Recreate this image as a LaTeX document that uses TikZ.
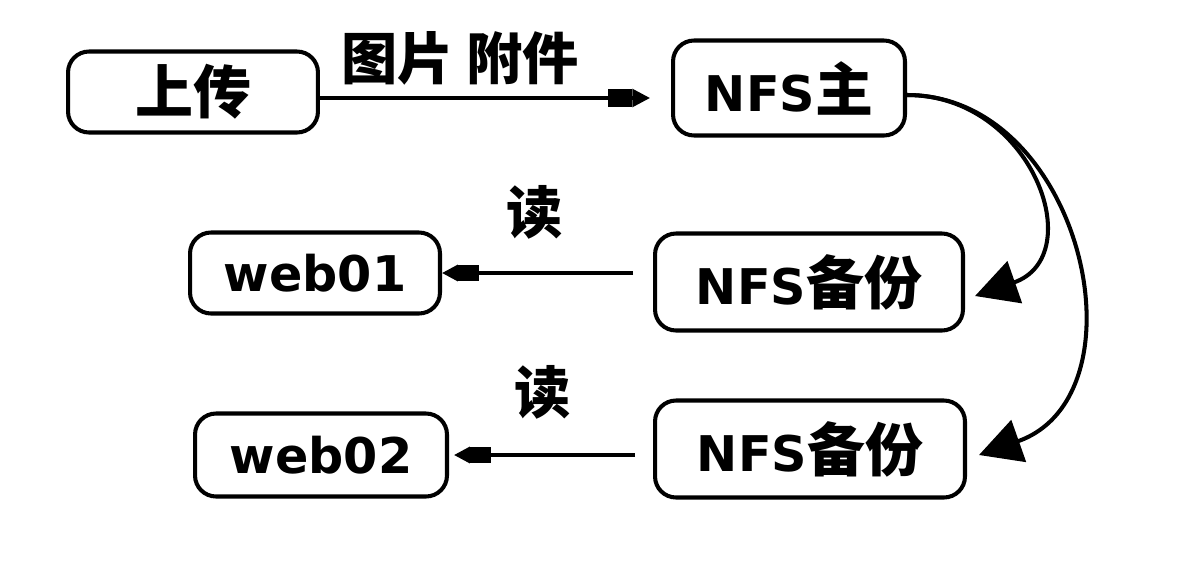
\documentclass[tikz,border=0pt]{standalone}
\usepackage{fontspec}
\setmainfont{Noto Sans CJK SC}
\newfontfamily\latinfont{DejaVu Sans}
\newcommand{\lat}[1]{{\latinfont\fontsize{28}{34}\selectfont\bfseries #1}}
\usetikzlibrary{arrows.meta}

\begin{document}
\begin{tikzpicture}[
  x=0.02cm, y=-0.02cm,
  box/.style={draw=black, line width=2.3pt, rounded corners=0.42cm, inner sep=0pt, minimum height=1.62cm, font=\fontsize{33}{40}\selectfont\bfseries},
  lbl/.style={inner sep=0pt, font=\fontsize{32}{38}\selectfont\bfseries},
  flow/.style={line width=2pt, -{Rectangle[length=12pt,width=9pt,sep=0pt]Triangle[length=9pt,width=9pt]}},
  sync/.style={line width=2.3pt, -{Triangle[length=24pt,width=25pt]}}
]
  \useasboundingbox (0,0) rectangle (1183,572);

  % Nodos
  \node[box, minimum width=5cm] (upload) at (193,92) {上传};
  \node[box, minimum width=4.64cm, minimum height=1.9cm] (main) at (789,88) {\lat{NFS}主};
  \node[box, minimum width=5cm] (web01) at (315,273) {\lat{web01}};
  \node[box, minimum width=6.16cm, minimum height=1.94cm] (bak1) at (809,282) {\lat{NFS}备份};
  \node[box, minimum width=5.04cm, minimum height=1.66cm] (web02) at (321,455) {\lat{web02}};
  \node[box, minimum width=6.2cm, minimum height=1.94cm] (bak2) at (810,449) {\lat{NFS}备份};

  % Flechas
  \draw[flow, shorten >=0.42cm, -{Rectangle[length=14pt,width=10pt,sep=0pt]Triangle[length=10pt,width=10pt]}]
    ([yshift=-0.12cm]upload.east) -- ([yshift=-0.12cm]upload.east -| main.west);
  \draw[flow, shorten <=0.4cm] (bak1.west |- web01) -- (web01.east);
  \draw[flow, shorten <=0.36cm, shorten >=0.1cm] (bak2.west |- web02) -- (web02.east);
  \draw[sync] ([yshift=-0.14cm]main.east) .. controls +(125,0) and +(115,-40) .. ([shift={(10,14)}]bak1.east);
  \draw[sync] ([yshift=-0.14cm]main.east) .. controls +(175,0) and +(170,-60) .. ([shift={(12,6)}]bak2.east);

  % Etiquetas
  \node[lbl] (files) at (460,58) {图片 附件};
  \node[lbl] (read1) at (535,212) {读};
  \node[lbl] (read2) at (543,392) {读};
\end{tikzpicture}
\end{document}
